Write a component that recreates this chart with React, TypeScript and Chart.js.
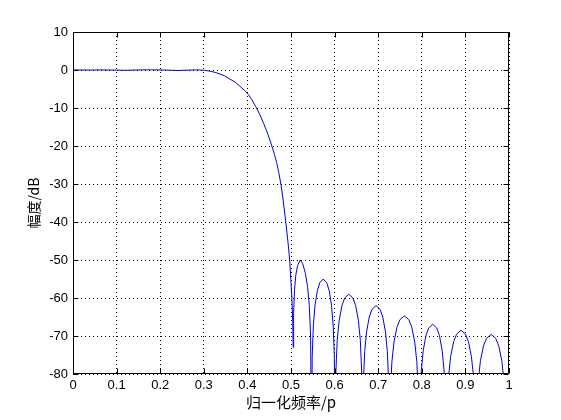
import React, { useEffect, useRef } from "react";
import { Chart, registerables } from "chart.js";

Chart.register(...registerables);

const xTickValues = [0, 0.1, 0.2, 0.3, 0.4, 0.5, 0.6, 0.7, 0.8, 0.9, 1];
const yTickValues = [-80, -70, -60, -50, -40, -30, -20, -10, 0, 10];
const xTitle = "归一化频率/p";
const yTitle = "幅度/dB";

// passband + transition band
const freqMain = [
  0, 0.02, 0.04, 0.06, 0.08, 0.1, 0.12, 0.14, 0.16, 0.18, 0.2, 0.22, 0.24, 0.26, 0.28, 0.29, 0.3,
  0.314, 0.325, 0.337, 0.348, 0.36, 0.372, 0.383, 0.393, 0.402, 0.41, 0.418, 0.421, 0.429, 0.437,
  0.444, 0.45, 0.456, 0.462, 0.467, 0.472, 0.477, 0.482, 0.488, 0.493, 0.497, 0.502, 0.504, 0.505,
];
const magMain = [
  0, 0.01, -0.01, 0.02, 0.01, -0.03, -0.08, -0.02, 0.03, 0.04, 0.02, -0.05, -0.12, -0.05, 0.02, 0.01, -0.08,
  -0.3, -0.6, -1.05, -1.55, -2.4, -3.2, -4.3, -5.3, -6.4, -7.8, -9.4, -10, -11.9, -14.0,
  -16.0, -17.9, -20, -22.2, -24.3, -27, -30.2, -34.2, -40, -45.2, -50, -60, -66, -73,
];

// stopband side lobes
const freqLobes = [
  0.506, 0.508, 0.511, 0.515, 0.521, 0.527, 0.533, 0.538, 0.542, 0.545, 0.547,
  0.5486, 0.5513, 0.5551, 0.5605, 0.5659, 0.574, 0.5821, 0.5875, 0.5929, 0.5967, 0.5994, 0.601,
  0.6029, 0.606, 0.6105, 0.6168, 0.6231, 0.6325, 0.642, 0.6483, 0.6546, 0.659, 0.6621, 0.664,
  0.6659, 0.669, 0.6733, 0.6795, 0.6857, 0.695, 0.7043, 0.7105, 0.7167, 0.721, 0.7241, 0.726,
  0.728, 0.7314, 0.7362, 0.743, 0.7498, 0.76, 0.7702, 0.777, 0.7838, 0.7886, 0.792, 0.794,
  0.7959, 0.799, 0.8033, 0.8095, 0.8157, 0.825, 0.8343, 0.8405, 0.8467, 0.851, 0.8541, 0.856,
  0.858, 0.8614, 0.8662, 0.873, 0.8798, 0.89, 0.9002, 0.907, 0.9138, 0.9186, 0.922, 0.924,
  0.9261, 0.9296, 0.9345, 0.9415, 0.9485, 0.959, 0.9695, 0.9765, 0.9835, 0.9884, 0.9919, 0.994, 1.0,
];
const magLobes = [
  -64, -58, -54, -51.5, -50, -51, -53.5, -57, -62, -70, -100,
  -75.5, -67.1, -61.9, -58, -56, -55, -56, -58, -61.9, -67.1, -75.5, -100,
  -79.5, -71.1, -65.9, -62, -60, -59, -60, -62, -65.9, -71.1, -79.5, -100,
  -82.5, -74.1, -68.9, -65, -63, -62, -63, -65, -68.9, -74.1, -82.5, -100,
  -85.2, -76.8, -71.6, -67.7, -65.7, -64.7, -65.7, -67.7, -71.6, -76.8, -85.2, -100,
  -87.4, -79, -73.8, -69.9, -67.9, -66.9, -67.9, -69.9, -73.8, -79, -87.4, -100,
  -89, -80.6, -75.4, -71.5, -69.5, -68.5, -69.5, -71.5, -75.4, -80.6, -89, -100,
  -90.1, -81.7, -76.5, -72.6, -70.6, -69.6, -70.6, -72.6, -76.5, -81.7, -90.1, -100, -95,
];

const freq = [...freqMain, ...freqLobes];
const magDb = [...magMain, ...magLobes];

const TICK_FONT = { family: "'Liberation Sans', Arial, sans-serif", size: 13 };

const boxPlugin = {
  id: "matlabBox",
  afterDraw(chart: any) {
    const { ctx, chartArea, scales } = chart;
    const { left, right, top, bottom } = chartArea;
    const L = Math.round(left) + 0.5;
    const R = Math.round(right) - 0.5;
    const T = Math.round(top) + 0.5;
    const B = Math.round(bottom) - 0.5;
    ctx.save();
    ctx.strokeStyle = "#000";
    ctx.lineWidth = 1;
    ctx.setLineDash([]);
    ctx.beginPath();
    ctx.rect(L, T, R - L, B - T);
    const len = 5;
    for (const v of xTickValues) {
      const px = Math.round(scales.x.getPixelForValue(v)) + 0.5;
      ctx.moveTo(px, B);
      ctx.lineTo(px, B - len);
      ctx.moveTo(px, T);
      ctx.lineTo(px, T + len);
    }
    for (const v of yTickValues) {
      const py = Math.round(scales.y.getPixelForValue(v)) + 0.5;
      ctx.moveTo(L, py);
      ctx.lineTo(L + len, py);
      ctx.moveTo(R, py);
      ctx.lineTo(R - len, py);
    }
    ctx.stroke();
    ctx.restore();
  },
};

export default function App() {
  const canvasRef = useRef<HTMLCanvasElement | null>(null);

  useEffect(() => {
    document.body.style.margin = "0";
    const canvas = canvasRef.current;
    if (!canvas) return;
    const chart = new Chart(canvas, {
      type: "line",
      data: {
        datasets: [
          {
            data: freq.map((f, i) => ({ x: f, y: magDb[i] })),
            borderColor: "rgb(0,0,225)",
            borderWidth: 1,
            pointRadius: 0,
            tension: 0,
            fill: false,
          },
        ],
      },
      options: {
        responsive: false,
        animation: false,
        devicePixelRatio: 1,
        layout: { padding: { top: 32, right: 52, left: 0, bottom: 0 } },
        plugins: { legend: { display: false }, tooltip: { enabled: false } },
        scales: {
          x: {
            type: "linear",
            min: 0,
            max: 1,
            afterBuildTicks: (scale: any) => {
              scale.ticks = xTickValues.map((v) => ({ value: v }));
            },
            afterFit: (scale: any) => {
              scale.height = 46;
            },
            grid: { color: "#000", lineWidth: 1, drawTicks: false },
            border: { display: false, dash: [1, 3] },
            ticks: {
              color: "#000",
              font: TICK_FONT,
              padding: 4,
              maxRotation: 0,
              autoSkip: false,
              callback: (v: any) => String(Number(Number(v).toFixed(1))),
            },
            title: {
              display: true,
              text: xTitle,
              color: "#000",
              font: { family: "'Noto Sans CJK SC', sans-serif", size: 15 },
              padding: { top: 0, bottom: 9 },
            },
          },
          y: {
            type: "linear",
            min: -80,
            max: 10,
            afterBuildTicks: (scale: any) => {
              scale.ticks = yTickValues.map((v) => ({ value: v }));
            },
            afterFit: (scale: any) => {
              scale.width = 73;
            },
            grid: { color: "#000", lineWidth: 1, drawTicks: false },
            border: { display: false, dash: [1, 3] },
            ticks: {
              color: "#000",
              font: TICK_FONT,
              padding: 5,
              autoSkip: false,
              callback: (v: any) => String(v),
            },
            title: {
              display: true,
              text: yTitle,
              color: "#000",
              font: { family: "'Noto Sans CJK SC', sans-serif", size: 14 },
              padding: { top: 25, bottom: 0 },
            },
          },
        },
      },
      plugins: [boxPlugin],
    });
    return () => chart.destroy();
  }, []);

  return (
    <div style={{ width: 561, height: 420, background: "#fff" }}>
      <canvas ref={canvasRef} width={561} height={420} style={{ display: "block" }} />
    </div>
  );
}
